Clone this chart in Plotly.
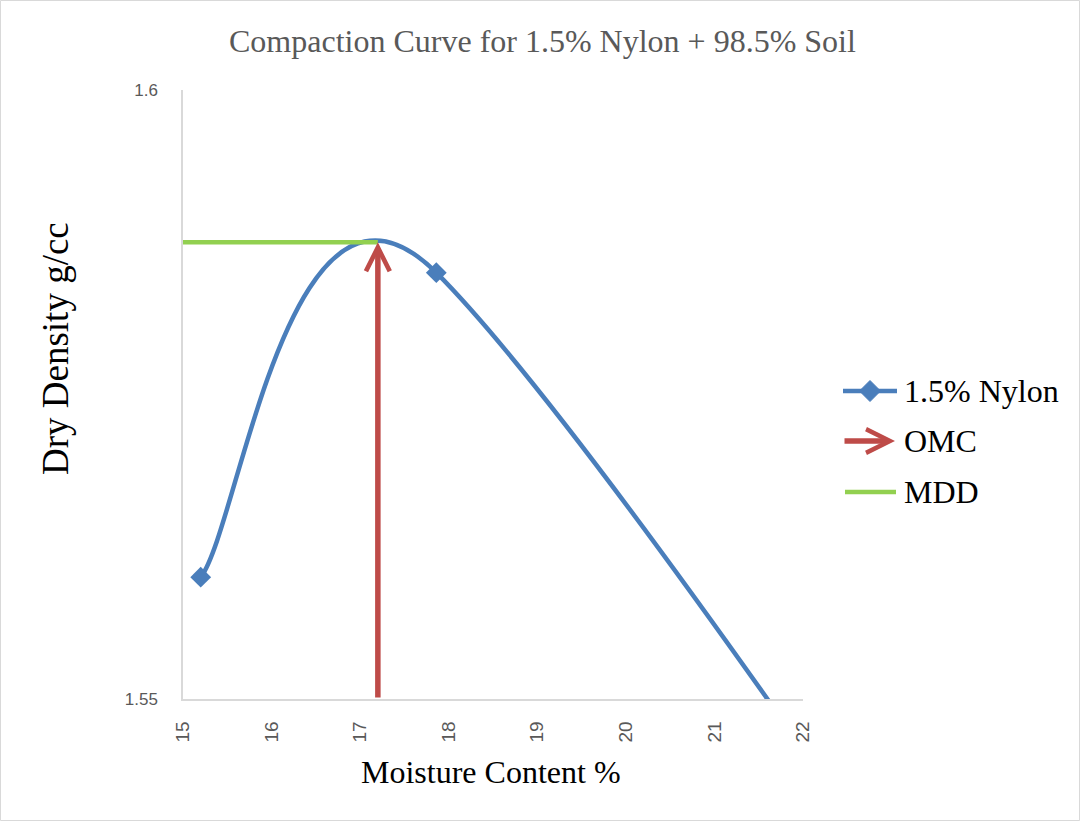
import math
import plotly.graph_objects as go

# Proctor test points: moisture content (%) and dry density (g/cc)
moisture = [15.2, 17.86, 32.1]
dry_density = [1.560, 1.585, 1.437]

# Optimum moisture content and maximum dry density taken from the curve
omc = 17.2
mdd = 1.5875

x_range = [15, 22]
y_range = [1.55, 1.6]
x_ticks = [15, 16, 17, 18, 19, 20, 21, 22]
y_ticks = [1.55, 1.6]
y_tick_text = ["1.55", "1.6"]

series_names = ["1.5% Nylon", "OMC", "MDD"]
chart_title = "Compaction Curve for 1.5% Nylon + 98.5% Soil"
x_title = "Moisture Content %"
y_title = "Dry Density g/cc"

BLUE = "#4A7EBB"
RED = "#BE4B48"
GREEN = "#92D050"
GRID = "#D9D9D9"
TICK = "#595959"
SERIF = "Liberation Serif, Times New Roman, serif"
SANS = "Liberation Sans, Arial, sans-serif"

W, H = 1083, 822
ML, MR, MT, MB = 183, 280, 90, 123
PW, PH = W - ML - MR, H - MT - MB


def px(xp):
    return (xp - ML) / PW


def py(yp):
    return (H - MB - yp) / PH


def smooth_path(xs, ys, tension=1 / 6, clip=0.54):
    """Bezier smoothing of a polyline, computed in screen units."""
    sx = PW / (x_range[1] - x_range[0])
    sy = PH / (y_range[1] - y_range[0])
    pts = [(x * sx, -y * sy) for x, y in zip(xs, ys)]
    n = len(pts)

    def dist(a, b):
        return math.hypot(a[0] - b[0], a[1] - b[1])

    def back(p):
        return f"{p[0] / sx:.6f},{-p[1] / sy:.6f}"

    path = "M" + back(pts[0])
    for i in range(n - 1):
        a = pts[i - 1] if i > 0 else pts[i]
        b = pts[i]
        c = pts[i + 1]
        e = pts[i + 2] if i + 2 < n else pts[i + 1]
        d12 = dist(b, c)
        d02 = dist(a, c)
        d13 = dist(b, e)
        f0 = tension if d02 * tension <= d12 * clip else d12 * clip / d02
        f3 = tension if d13 * tension <= d12 * clip else d12 * clip / d13
        c1 = (b[0] + (c[0] - a[0]) * f0, b[1] + (c[1] - a[1]) * f0)
        c2 = (c[0] - (e[0] - b[0]) * f3, c[1] - (e[1] - b[1]) * f3)
        path += "C" + back(c1) + " " + back(c2) + " " + back(c)
    return path


fig = go.Figure()

# data markers
fig.add_trace(go.Scatter(
    x=moisture, y=dry_density, mode="markers", name=series_names[0],
    marker=dict(symbol="diamond", size=16, color=BLUE),
    showlegend=False, hoverinfo="x+y",
))

# MDD horizontal line
fig.add_trace(go.Scatter(
    x=[x_range[0], omc], y=[mdd, mdd], mode="lines", name=series_names[2],
    line=dict(color=GREEN, width=4.5), showlegend=False,
))

shapes = [
    # smoothed compaction curve
    dict(type="path", path=smooth_path(moisture, dry_density), xref="x", yref="y",
         line=dict(color=BLUE, width=4.5), layer="below"),
    # outer chart border
    dict(type="rect", xref="paper", yref="paper",
         x0=px(0.5), x1=px(1079.5), y0=py(0.5), y1=py(820.5),
         line=dict(color=GRID, width=1), fillcolor="rgba(0,0,0,0)"),
]

annotations = [
    # OMC arrow
    dict(x=omc, y=mdd, ax=omc, ay=y_range[0], xref="x", yref="y", axref="x", ayref="y",
         text="", showarrow=True, arrowhead=5, arrowsize=0.85, arrowwidth=5.5,
         arrowcolor=RED, standoff=0),
    dict(text=chart_title, x=px(542), y=py(41), xref="paper", yref="paper",
         showarrow=False, font=dict(family=SERIF, size=32, color=TICK),
         xanchor="center", yanchor="middle"),
    dict(text=x_title, x=px(491), y=py(772), xref="paper", yref="paper",
         showarrow=False, font=dict(family=SERIF, size=32, color="black"),
         xanchor="center", yanchor="middle"),
    dict(text=y_title, x=px(55), y=py(349), xref="paper", yref="paper",
         showarrow=False, textangle=-90, font=dict(family=SERIF, size=37, color="black"),
         xanchor="center", yanchor="middle"),
]

# legend
leg_x0, leg_x1, leg_text = 843, 897, 902
leg_rows = [391, 441, 492]
shapes.append(dict(type="line", xref="paper", yref="paper",
                   x0=px(leg_x0), x1=px(leg_x1), y0=py(leg_rows[0]), y1=py(leg_rows[0]),
                   line=dict(color=BLUE, width=4.5)))
cx, cy, hd = (leg_x0 + leg_x1) / 2, leg_rows[0], 10.5
shapes.append(dict(type="path", xref="paper", yref="paper",
                   path=(f"M{px(cx - hd)},{py(cy)} L{px(cx)},{py(cy - hd)} "
                         f"L{px(cx + hd)},{py(cy)} L{px(cx)},{py(cy + hd)} Z"),
                   fillcolor=BLUE, line=dict(color=BLUE, width=1)))
annotations.append(dict(x=px(leg_x1 - 2), y=py(leg_rows[1]), xref="paper", yref="paper",
                        ax=-(leg_x1 - 2 - leg_x0), ay=0, axref="pixel", ayref="pixel",
                        text="", showarrow=True, arrowhead=5, arrowsize=0.85,
                        arrowwidth=5.5, arrowcolor=RED, standoff=0))
shapes.append(dict(type="line", xref="paper", yref="paper",
                   x0=px(leg_x0 + 2), x1=px(leg_x1 - 1), y0=py(leg_rows[2]), y1=py(leg_rows[2]),
                   line=dict(color=GREEN, width=4.5)))
for name, row in zip(series_names, leg_rows):
    annotations.append(dict(text=name, x=px(leg_text), y=py(row), xref="paper", yref="paper",
                            showarrow=False, xanchor="left", yanchor="middle",
                            font=dict(family=SERIF, size=32, color="black")))

fig.update_layout(
    width=W, height=H,
    margin=dict(l=ML, r=MR, t=MT, b=MB),
    paper_bgcolor="white", plot_bgcolor="white",
    showlegend=False,
    shapes=shapes, annotations=annotations,
    xaxis=dict(range=x_range, tickvals=x_ticks, ticktext=[str(v) for v in x_ticks],
               tickangle=-90, showgrid=False, zeroline=False,
               showline=True, linecolor=GRID, linewidth=1.5,
               ticks="outside", ticklen=13, tickcolor="rgba(0,0,0,0)",
               tickfont=dict(family=SANS, size=19, color=TICK)),
    yaxis=dict(range=y_range, tickvals=y_ticks, ticktext=y_tick_text,
               showgrid=True, gridcolor=GRID, gridwidth=1.5, zeroline=False,
               showline=True, linecolor=GRID, linewidth=1.5,
               ticks="outside", ticklen=20, tickcolor="rgba(0,0,0,0)",
               tickfont=dict(family=SANS, size=17, color=TICK)),
)

fig.write_html("out.html")
